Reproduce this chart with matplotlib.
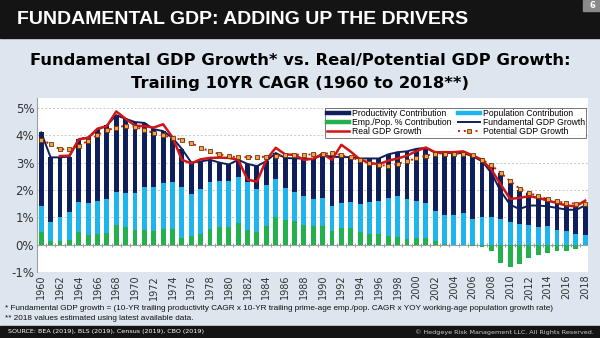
import numpy as np
import matplotlib.pyplot as plt
from matplotlib.patches import Rectangle
from matplotlib.lines import Line2D

years = list(range(1960, 2019))

productivity = [2.68, 2.38, 2.17, 2.04, 2.30, 2.40, 2.62, 2.69, 2.79, 2.72,
                2.60, 2.35, 2.10, 1.91, 1.60, 1.40, 1.16, 0.99, 0.80, 0.68,
                0.62, 0.62, 0.67, 0.82, 0.86, 0.95, 1.10, 1.21, 1.39, 1.45,
                1.57, 1.78, 1.68, 1.65, 1.68, 1.60, 1.57, 1.59, 1.62, 1.74,
                1.92, 2.00, 2.12, 2.26, 2.27, 2.22, 2.32, 2.13, 1.84, 1.68,
                1.43, 1.25, 1.19, 1.15, 1.02, 1.04, 1.01, 1.03, 1.08]
population = [0.96, 0.68, 0.89, 1.01, 1.08, 1.17, 1.20, 1.23, 1.22, 1.25,
              1.33, 1.55, 1.61, 1.66, 1.74, 1.85, 1.54, 1.65, 1.72, 1.68,
              1.67, 1.69, 1.73, 1.60, 1.51, 1.40, 1.17, 1.09, 1.03, 1.00,
              1.02, 0.92, 0.90, 0.94, 1.02, 1.15, 1.20, 1.40, 1.49, 1.46,
              1.34, 1.29, 1.12, 1.09, 1.07, 1.15, 0.95, 1.02, 1.02, 0.95,
              0.83, 0.75, 0.71, 0.65, 0.67, 0.55, 0.49, 0.39, 0.37]
emp_pop = [0.46, 0.13, 0.13, 0.17, 0.47, 0.35, 0.38, 0.44, 0.72, 0.63,
           0.55, 0.55, 0.51, 0.58, 0.56, 0.25, 0.30, 0.40, 0.58, 0.64,
           0.64, 0.79, 0.55, 0.45, 0.68, 1.00, 0.90, 0.85, 0.73, 0.68,
           0.69, 0.51, 0.62, 0.61, 0.45, 0.40, 0.38, 0.31, 0.27, 0.21,
           0.24, 0.25, 0.12, 0.01, 0.00, -0.02, -0.04, -0.10, -0.24, -0.68,
           -0.80, -0.70, -0.47, -0.37, -0.29, -0.25, -0.22, -0.15, -0.02]
fundamental = [4.10, 3.19, 3.19, 3.22, 3.85, 3.92, 4.20, 4.36, 4.73, 4.60,
               4.48, 4.45, 4.22, 4.15, 3.90, 3.50, 3.00, 3.04, 3.10, 3.00,
               2.93, 3.10, 2.95, 2.87, 3.05, 3.35, 3.17, 3.15, 3.15, 3.13,
               3.28, 3.21, 3.20, 3.20, 3.15, 3.15, 3.15, 3.30, 3.38, 3.41,
               3.50, 3.54, 3.36, 3.36, 3.34, 3.35, 3.23, 3.05, 2.62, 1.95,
               1.46, 1.30, 1.43, 1.43, 1.40, 1.34, 1.28, 1.27, 1.43]
real_gdp = [np.nan, np.nan, 3.24, 3.25, 3.85, 3.90, 4.24, 4.33, 4.87, 4.60,
            4.35, 4.33, 4.28, 4.40, 3.92, 3.10, 2.97, 3.12, 3.17, 3.18,
            3.17, 3.10, 2.38, 2.30, 3.10, 3.54, 3.30, 3.28, 3.10, 3.14,
            3.32, 3.10, 3.65, 3.40, 3.11, 2.99, 2.94, 3.07, 3.15, 3.25,
            3.42, 3.55, 3.38, 3.38, 3.38, 3.41, 3.26, 3.10, 2.74, 2.20,
            1.67, 1.71, 1.77, 1.71, 1.61, 1.52, 1.43, 1.40, 1.61]
potential_gdp = [3.84, 3.67, 3.49, 3.48, 3.60, 3.80, 4.01, 4.18, 4.28, 4.35,
                 4.31, 4.20, 4.08, 4.00, 3.90, 3.84, 3.71, 3.55, 3.41, 3.31,
                 3.23, 3.19, 3.20, 3.21, 3.21, 3.23, 3.27, 3.29, 3.29, 3.30,
                 3.32, 3.34, 3.27, 3.19, 3.08, 2.97, 2.90, 2.89, 2.95, 3.05,
                 3.15, 3.25, 3.33, 3.33, 3.33, 3.33, 3.26, 3.11, 2.90, 2.62,
                 2.32, 2.05, 1.89, 1.77, 1.67, 1.59, 1.52, 1.50, 1.49]

NAVY = '#0e1f5b'
BLUE = '#1eb4ee'
GREEN = '#22b14c'
RED = '#d41414'
BG = '#dde5ee'

fig = plt.figure(figsize=(6, 3.38), dpi=100)
fig.patch.set_facecolor(BG)

# header / footer bands
fig.patches.append(Rectangle((0, 1 - 38 / 338), 1, 38 / 338, transform=fig.transFigure,
                             color='#141414', zorder=0))
fig.patches.append(Rectangle((583 / 600, 1 - 11 / 338), 17 / 600, 11 / 338,
                             transform=fig.transFigure, color='#8a8a8a', zorder=1))
fig.text(592 / 600, 1 - 5.5 / 338, '6', color='white', fontsize=6, fontweight='bold',
         ha='center', va='center')
fig.patches.append(Rectangle((0, 0), 1, 12 / 338, transform=fig.transFigure,
                             color='#141414', zorder=0))

fig.text(17 / 600, 1 - 20 / 338, 'FUNDAMENTAL GDP: ADDING UP THE DRIVERS', color='white',
         fontsize=14, fontweight='bold', family='Liberation Sans', va='center')
fig.text(0.5, 1 - 61 / 338, 'Fundamental GDP Growth* vs. Real/Potential GDP Growth:',
         fontsize=11.8, fontweight='heavy', ha='center', va='center', color='black')
fig.text(0.5, 1 - 84 / 338, 'Trailing 10YR CAGR (1960 to 2018**)',
         fontsize=11.8, fontweight='heavy', ha='center', va='center', color='black')

fig.text(5 / 600, 1 - 309 / 338,
         '* Fundamental GDP growth = (10-YR trailing productivity CAGR x 10-YR trailing '
         'prime-age emp./pop. CAGR x YOY working-age population growth rate)',
         fontsize=5.85, family='Liberation Sans', va='center', color='#111111')
fig.text(5 / 600, 1 - 319 / 338, '** 2018 values estimated using latest available data.',
         fontsize=5.85, family='Liberation Sans', va='center', color='#111111')
fig.text(8 / 600, 6 / 338, 'SOURCE: BEA (2019), BLS (2019), Census (2019), CBO (2019)',
         fontsize=4.6, color='white', va='center')
fig.text(594 / 600, 6 / 338, '\u00a9 Hedgeye Risk Management LLC. All Rights Reserved.',
         fontsize=4.6, color='#cccccc', va='center', ha='right')

ax = fig.add_axes([37 / 600, 1 - 272 / 338, 551 / 600, 174 / 338])
ax.set_facecolor('white')

x = np.arange(len(years))
emp = np.array(emp_pop)
pop = np.array(population)
prod = np.array(productivity)
pos_emp = np.clip(emp, 0, None)

w = 0.52
ax.bar(x, emp, w, color=GREEN, zorder=2)
ax.bar(x, pop, w, bottom=pos_emp, color=BLUE, zorder=2)
ax.bar(x, prod, w, bottom=pos_emp + pop, color=NAVY, zorder=2)

ax.plot(x, fundamental, color=NAVY, lw=1.4, zorder=3)
ax.plot(x, real_gdp, color=RED, lw=1.8, zorder=4)
ax.plot(x, potential_gdp, color=RED, lw=1.4, ls=(0, (1, 2)), marker='s', ms=3.3,
        mfc='#f7a04c', mec='#6b3500', mew=0.6, zorder=5)

ax.set_xlim(-0.45, len(years) - 0.7)
ax.set_ylim(-1, 5.36)
ax.set_yticks(range(-1, 6))
ax.set_yticklabels([f'{v}%' for v in range(-1, 6)], fontsize=8.5, color='#333333')
ax.set_xticks(x[::2])
ax.set_xticklabels([str(y) for y in years[::2]], rotation=90, fontsize=7,
                   color='#333333')
ax.tick_params(axis='both', length=0, pad=2)
for v in range(1, 6):
    ax.axhline(v, color='#c8c8c8', lw=0.7, ls=(0, (2, 2)), zorder=1)
ax.axhline(0, color='#a0a0a0', lw=0.8, zorder=1)
# small year ticks on the zero line
ax.plot(x + 0.5, np.zeros(len(x)), ls='none', marker='|', ms=3, color='#a0a0a0',
        markeredgewidth=0.7, zorder=1)

for s in ['top', 'right', 'bottom']:
    ax.spines[s].set_visible(False)
ax.spines['left'].set_color('#a0a0a0')

handles = [
    Line2D([], [], color=NAVY, lw=3.2),
    Line2D([], [], color=GREEN, lw=3.2),
    Line2D([], [], color=RED, lw=1.8),
    Line2D([], [], color=BLUE, lw=3.2),
    Line2D([], [], color=NAVY, lw=1.4),
    Line2D([], [], color=RED, lw=1.4, ls=(0, (1, 2)), marker='s', ms=3.3,
           mfc='#f7a04c', mec='#6b3500', mew=0.6),
]
labels = ['Productivity Contribution', 'Emp./Pop. % Contribution', 'Real GDP Growth',
          'Population Contribution', 'Fundamental GDP Growth', 'Potential GDP Growth']
leg = ax.legend(handles, labels, ncol=2, loc='upper right',
                bbox_to_anchor=(0.997, (272 - 108) / 174),
                prop={'family': 'Liberation Sans', 'size': 6.2}, frameon=True,
                fancybox=False, edgecolor='#555555',
                handlelength=2.6, handletextpad=0.3, columnspacing=0.8,
                labelspacing=0.0, borderpad=0.15, borderaxespad=0.0)
leg.get_frame().set_linewidth(0.7)

plt.savefig('out.png', dpi=100, facecolor=fig.get_facecolor())
